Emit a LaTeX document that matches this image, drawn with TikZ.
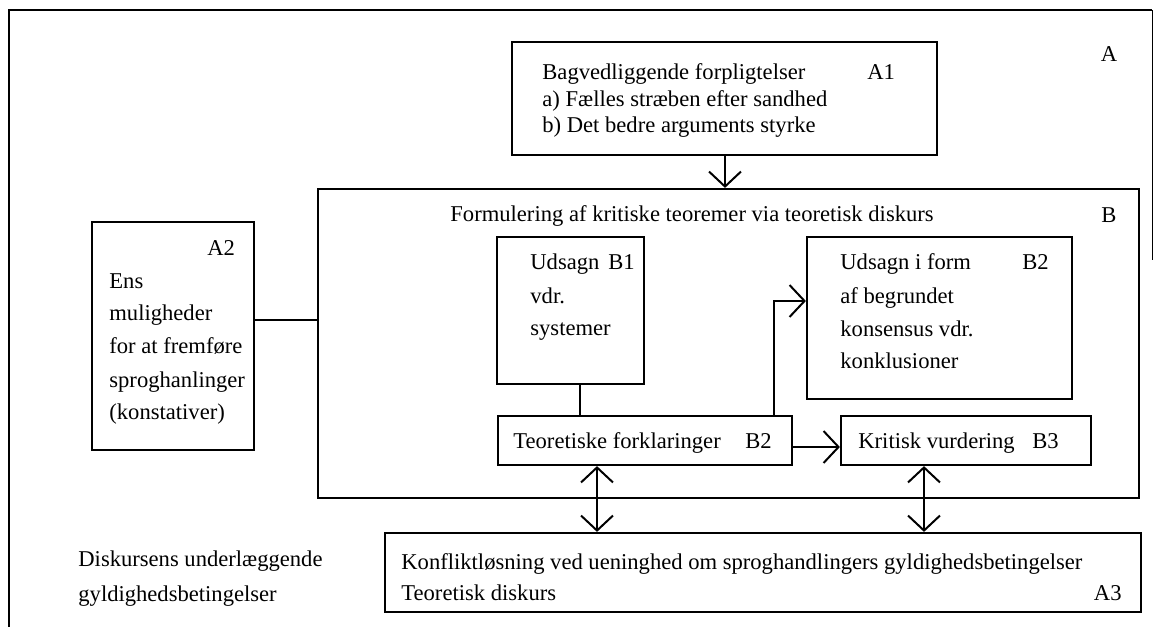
\documentclass[tikz,border=0pt]{standalone}
\usepackage{fontspec}
\setmainfont{Liberation Serif}
\usetikzlibrary{arrows.meta,fit}
\begin{document}
\begin{tikzpicture}[x=0.5pt,y=-0.5pt,
  font=\fontsize{11.3}{14}\selectfont,
  box/.style={draw, line width=1.1pt, inner sep=0pt},
  txt/.style={inner sep=0pt, anchor=base west},
  conn/.style={line width=1pt},
  arr/.style={line width=1pt, -{Straight Barb[length=7.5pt,width=16pt,line width=1pt]}},
  dbl/.style={line width=1pt, {Straight Barb[length=7.5pt,width=16pt,line width=1pt]}-{Straight Barb[length=7.5pt,width=16pt,line width=1pt]}}]
\useasboundingbox[fill=white] (0,0) rectangle (1153,627);
% outer frame
\coordinate (f1) at (9,627);
\coordinate (f2) at (9,10);
\coordinate (f3) at (1152,10);
\coordinate (f4) at (1152,260);
\draw[line width=1.2pt] (f1) -- (f2) -- (f3);
\draw[line width=0.5pt] (f3) -- (f4);
\node[inner sep=0pt] (lA) at (1109,54) {A};

% A1
\node[box, fit={(512,42) (937,155)}] (a1) {};
\node[txt] (a1t1) at (542,79) {Bagvedliggende forpligtelser};
\node[txt] (a1l) at (867,79) {A1};
\node[txt] (a1t2) at (542,106) {a) Fælles stræben efter sandhed};
\node[txt] (a1t3) at (542,132) {b) Det bedre arguments styrke};

% B
\node[box, fit={(318,189) (1139,498)}] (bb) {};
\node[txt] (bt) at (450,221) {Formulering af kritiske teoremer via teoretisk diskurs};
\node[inner sep=0pt] (lB) at (1109,215) {B};

% B1
\node[box, fit={(497,237) (644,384)}] (b1) {};
\node[txt] (b1t1) at (530,269) {Udsagn};
\node[txt] (b1l) at (608,269) {B1};
\node[txt] (b1t2) at (530,303) {vdr.};
\node[txt] (b1t3) at (530,335) {systemer};

% B2 upper
\node[box, fit={(807,237) (1072,399)}] (b2) {};
\node[txt] (b2t1) at (840,269) {Udsagn i form};
\node[txt] (b2l) at (1022,269) {B2};
\node[txt] (b2t2) at (840,303) {af begrundet};
\node[txt] (b2t3) at (840,336) {konsensus vdr.};
\node[txt] (b2t4) at (840,368) {konklusioner};

% Teoretiske forklaringer
\node[box, fit={(498,416) (792,465)}] (tf) {};
\node[txt] (tft) at (513,448) {Teoretiske forklaringer};
\node[txt] (tfl) at (745,448) {B2};

% Kritisk vurdering
\node[box, fit={(841,416) (1091,465)}] (kv) {};
\node[txt] (kvt) at (858,448) {Kritisk vurdering};
\node[txt] (kvl) at (1032,448) {B3};

% A2
\node[box, fit={(92,222) (254,450)}] (a2) {};
\node[txt] (a2l) at (207,255) {A2};
\node[txt] (a2t1) at (109,288) {Ens};
\node[txt] (a2t2) at (109,320) {muligheder};
\node[txt] (a2t3) at (109,353) {for at fremføre};
\node[txt] (a2t4) at (109,387) {sproghanlinger};
\node[txt] (a2t5) at (109,419) {(konstativer)};

% A3
\node[box, fit={(385,533) (1141,612)}] (a3) {};
\node[txt] (a3t1) at (401,569) {Konfliktløsning ved ueninghed om sproghandlingers gyldighedsbetingelser};
\node[txt] (a3t2) at (401,600) {Teoretisk diskurs};
\node[inner sep=0pt, anchor=base east] (a3l) at (1122,600) {A3};

% free text
\node[txt] (dk1) at (78,566) {Diskursens underlæggende};
\node[txt] (dk2) at (78,601) {gyldighedsbetingelser};

% connectors
\coordinate (va) at (725,0);
\draw[arr] (va |- a1.south) -- (va |- bb.north);
\coordinate (ha2) at (0,320);
\draw[conn] (a2.east |- ha2) -- (bb.west |- ha2);
\coordinate (vb1) at (580,0);
\draw[conn] (vb1 |- b1.south) -- (vb1 |- tf.north);
\coordinate (e) at (774,301);
\draw[arr] (e |- tf.north) -- (e) -- (e -| b2.west);
\coordinate (htk) at (0,447);
\draw[arr] (tf.east |- htk) -- (kv.west |- htk);
\coordinate (d1) at (597,0);
\draw[dbl] (d1 |- tf.south) -- (d1 |- a3.north);
\coordinate (d2) at (924,0);
\draw[dbl] (d2 |- kv.south) -- (d2 |- a3.north);
\end{tikzpicture}
\end{document}
